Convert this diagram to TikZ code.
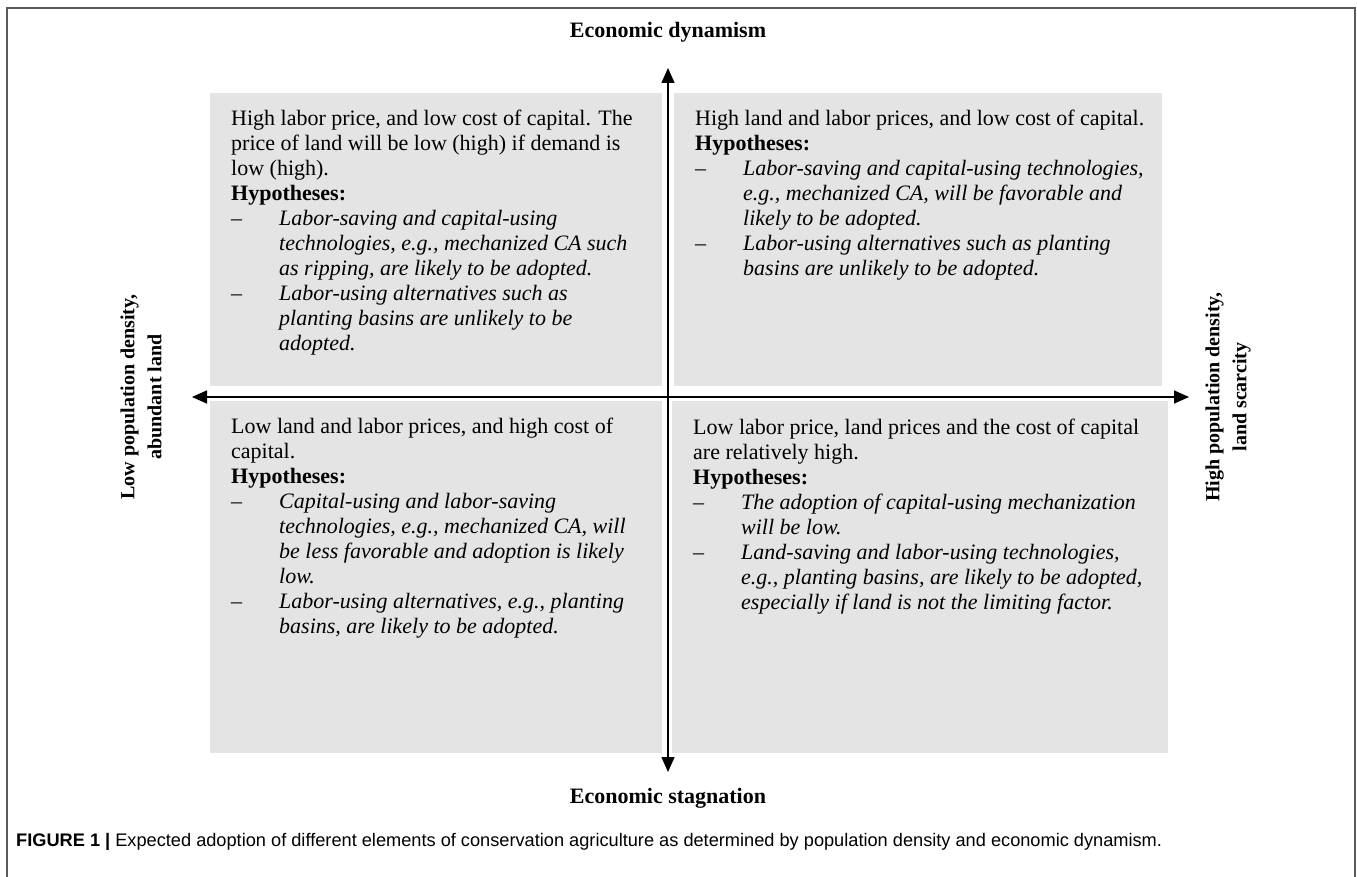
\documentclass[tikz,border=0pt]{standalone}
\usepackage{fontspec}
\setmainfont{Liberation Serif}
\newfontfamily\capfont{Liberation Sans}
\usetikzlibrary{arrows.meta}
\definecolor{boxgray}{HTML}{E4E4E4}
\definecolor{framegray}{HTML}{5A5A5A}
\newcommand{\hy}{\makebox[48pt][l]{--}}
\newcommand{\hi}{\hspace*{48pt}}
\tikzset{
  quadbox/.style={fill=boxgray},
  quadtext/.style={anchor=north west, inner sep=0pt, align=left, font=\fontsize{22}{25}\selectfont},
  axislabel/.style={inner sep=0pt, align=center, font=\fontsize{22}{27}\selectfont\bfseries},
  sidelabel/.style={inner sep=0pt, align=center, rotate=90, font=\fontsize{20}{27}\selectfont\bfseries},
  axisarrow/.style={line width=1.5pt, {Triangle[length=15pt,width=13pt]}-{Triangle[length=15pt,width=13pt]}}
}
\begin{document}
\begin{tikzpicture}[x=1pt,y=-1pt]
\useasboundingbox (0,0) rectangle (1357,877);
% frame (open at bottom)
\draw[framegray, line width=1.5pt] (7,877) -- (7,8) -- (1355,8) -- (1355,877);
% quadrant boxes
\fill[quadbox] (210,93) rectangle (662,386);
\fill[quadbox] (674,93) rectangle (1162,386);
\fill[quadbox] (210,401) rectangle (662,753);
\fill[quadbox] (672,401) rectangle (1168,753);
% axes
\coordinate (top) at (668,68);
\coordinate (bottom) at (668,772);
\coordinate (left) at (192,397);
\coordinate (right) at (1189,397);
\draw[axisarrow] (bottom) -- (top);
\draw[axisarrow] (left) -- (right);
% axis labels
\node[axislabel] (dyn) at (668,32) {Economic dynamism};
\node[axislabel] (stag) at (668,798) {Economic stagnation};
\node[sidelabel] (low) at (141,397) {Low population density,\\abundant land};
\node[sidelabel] (high) at (1228,397) {High population density,\\land scarcity};
% quadrant texts
\node[quadtext] (tl) at (231,110) {High labor price, and low cost of capital. The\\
price of land will be low (high) if demand is\\
low (high).\\
\textbf{Hypotheses:}\\
\hy\textit{Labor-saving and capital-using}\\
\hi\textit{technologies, e.g., mechanized CA such}\\
\hi\textit{as ripping, are likely to be adopted.}\\
\hy\textit{Labor-using alternatives such as}\\
\hi\textit{planting basins are unlikely to be}\\
\hi\textit{adopted.}};
\node[quadtext] (tr) at (695,110) {High land and labor prices, and low cost of capital.\\
\textbf{Hypotheses:}\\
\hy\textit{Labor-saving and capital-using technologies,}\\
\hi\textit{e.g., mechanized CA, will be favorable and}\\
\hi\textit{likely to be adopted.}\\
\hy\textit{Labor-using alternatives such as planting}\\
\hi\textit{basins are unlikely to be adopted.}};
\node[quadtext] (bl) at (231,418) {Low land and labor prices, and high cost of\\
capital.\\
\textbf{Hypotheses:}\\
\hy\textit{Capital-using and labor-saving}\\
\hi\textit{technologies, e.g., mechanized CA, will}\\
\hi\textit{be less favorable and adoption is likely}\\
\hi\textit{low.}\\
\hy\textit{Labor-using alternatives, e.g., planting}\\
\hi\textit{basins, are likely to be adopted.}};
\node[quadtext] (br) at (693,419) {Low labor price, land prices and the cost of capital\\
are relatively high.\\
\textbf{Hypotheses:}\\
\hy\textit{The adoption of capital-using mechanization}\\
\hi\textit{will be low.}\\
\hy\textit{Land-saving and labor-using technologies,}\\
\hi\textit{e.g., planting basins, are likely to be adopted,}\\
\hi\textit{especially if land is not the limiting factor.}};
% caption
\node[anchor=west, inner sep=0pt, font=\capfont\fontsize{18.2}{21}\selectfont] (cap) at (16,842) {\textbf{FIGURE 1 |} Expected adoption of different elements of conservation agriculture as determined by population density and economic dynamism.};
\end{tikzpicture}
\end{document}
